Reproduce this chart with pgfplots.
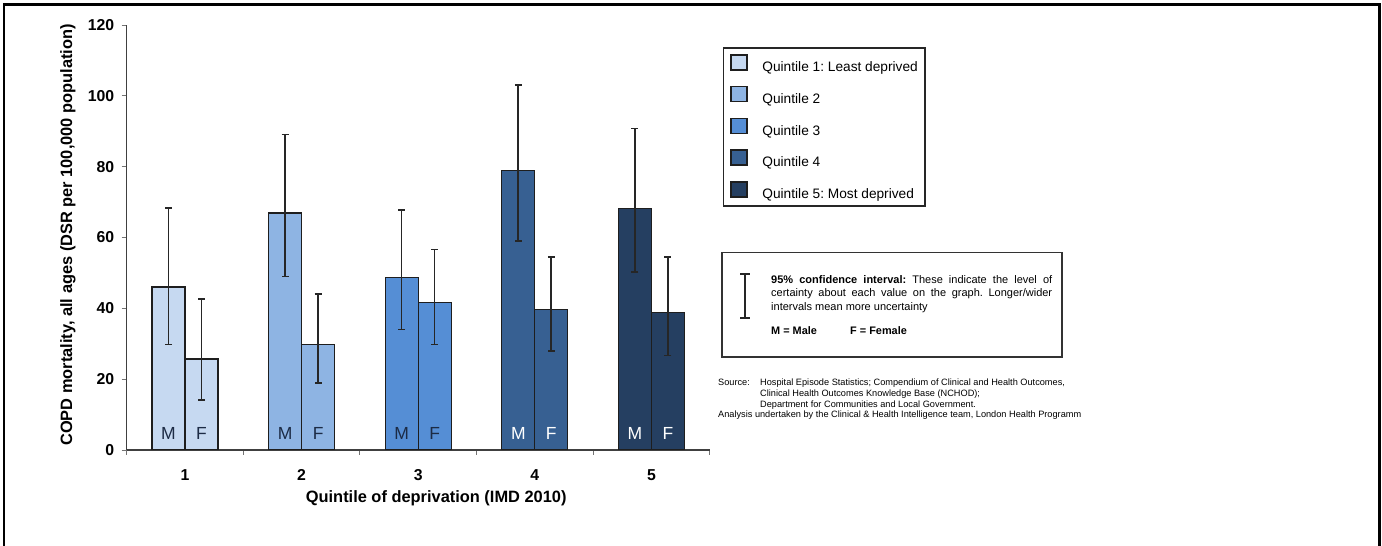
\documentclass[border=0pt]{standalone}
\usepackage{pgfplots}
\pgfplotsset{compat=1.18}
\usepackage{fontspec}
\setmainfont{Liberation Sans}
\frenchspacing
\definecolor{qa}{HTML}{C6D9F1}
\definecolor{qb}{HTML}{8EB4E3}
\definecolor{qc}{HTML}{558ED5}
\definecolor{qd}{HTML}{376092}
\definecolor{qe}{HTML}{253F61}
\definecolor{edge}{HTML}{1E1E1E}
\definecolor{lab}{HTML}{1C2B45}
\begin{document}
\begin{tikzpicture}[x=1pt,y=1pt]
\useasboundingbox (0,0) rectangle (1382,546);
\draw[line width=2.6pt] (4,-20) rectangle (1379.5,541.5);
\begin{axis}[
  at={(126.7pt,96pt)}, anchor=south west,
  scale only axis, width=583pt, height=425pt,
  ybar, enlargelimits=false,
  xmin=0.5, xmax=5.5, ymin=0, ymax=120,
  axis x line*=bottom, axis y line*=left,
  axis line style={-, draw=black!75, line width=1.2pt},
  tick align=outside, major tick length=5pt,
  tick style={draw=black!55, line width=0.9pt},
  ytick={0,20,40,60,80,100,120},
  xtick={0.5,1.5,2.5,3.5,4.5,5.5}, xticklabels={},
  extra x ticks={1,2,3,4,5},
  extra x tick style={major tick length=0pt, xticklabel style={yshift=-16pt}},
  /pgf/number format/assume math mode=true,
  ticklabel style={font=\fontsize{15.8}{18}\selectfont\bfseries},
  yticklabel style={xshift=-4pt},
  xlabel={Quintile of deprivation (IMD 2010)},
  ylabel={COPD mortality, all ages (DSR per 100,000 population)},
  xlabel style={font=\fontsize{16.4}{19}\selectfont\bfseries, at={(axis description cs:0.5,0)}, anchor=base, xshift=18pt, yshift=-53pt},
  ylabel style={font=\fontsize{16.4}{19}\selectfont\bfseries, at={(axis description cs:-0.1007,0.506)}, anchor=center},
  error bars/y dir=both, error bars/y explicit,
  error bars/error bar style={draw=black!85, line width=1.6pt},
  error bars/error mark options={draw=black!85, line width=1.8pt, mark size=3.5pt, rotate=90},
  bar width=33pt,
  legend style={at={(1.022,0.948)}, anchor=north west, draw=black!85, line width=1.8pt,
    inner xsep=7pt, inner ysep=6pt, row sep=12.9pt,
    font=\fontsize{13.7}{16}\selectfont, cells={anchor=west},
    nodes={inner sep=0pt}},
  legend image code/.code={\draw[#1,line width=1.6pt,draw=edge] (0pt,-2.6pt) rectangle (16pt,12.4pt); \path[draw=none,fill=none] (0pt,0pt) -- (31.2pt,0pt);},
]
% Male bars
\addplot[fill=qa, draw=edge, line width=1.2pt, bar shift=-16.5pt] coordinates {(1,46.0) += (0,22.3) -= (0,16.2)};
\addlegendentry{Quintile 1: Least deprived}
\addplot[fill=qb, draw=edge, line width=1.2pt, bar shift=-16.5pt] coordinates {(2,66.9) += (0,22.2) -= (0,17.9)};
\addlegendentry{Quintile 2}
\addplot[fill=qc, draw=edge, line width=1.2pt, bar shift=-16.5pt] coordinates {(3,48.8) += (0,18.9) -= (0,14.8)};
\addlegendentry{Quintile 3}
\addplot[fill=qd, draw=edge, line width=1.2pt, bar shift=-16.5pt] coordinates {(4,78.9) += (0,24.2) -= (0,20.0)};
\addlegendentry{Quintile 4}
\addplot[fill=qe, draw=edge, line width=1.2pt, bar shift=-16.5pt] coordinates {(5,68.3) += (0,22.5) -= (0,18.0)};
\addlegendentry{Quintile 5: Most deprived}
% Female bars
\addplot[forget plot, fill=qa, draw=edge, line width=1.2pt, bar shift=16.5pt] coordinates {(1,25.7) += (0,17.0) -= (0,11.5)};
\addplot[forget plot, fill=qb, draw=edge, line width=1.2pt, bar shift=16.5pt] coordinates {(2,29.8) += (0,14.3) -= (0,10.8)};
\addplot[forget plot, fill=qc, draw=edge, line width=1.2pt, bar shift=16.5pt] coordinates {(3,41.7) += (0,14.9) -= (0,11.9)};
\addplot[forget plot, fill=qd, draw=edge, line width=1.2pt, bar shift=16.5pt] coordinates {(4,39.6) += (0,14.9) -= (0,11.6)};
\addplot[forget plot, fill=qe, draw=edge, line width=1.2pt, bar shift=16.5pt] coordinates {(5,38.9) += (0,15.6) -= (0,12.2)};
% M / F labels
\foreach \q/\c in {1/lab,2/lab,3/lab,4/white,5/white}{
  \edef\tmp{\noexpand\node[anchor=base, text=\c, font=\noexpand\fontsize{17.5}{19}\noexpand\selectfont, xshift=-16.5pt, yshift=10pt] at (axis cs:\q,0) {M};
  \noexpand\node[anchor=base, text=\c, font=\noexpand\fontsize{17.5}{19}\noexpand\selectfont, xshift=16.5pt, yshift=10pt] at (axis cs:\q,0) {F};}
  \tmp
}
\end{axis}
% confidence interval box
\draw[draw=black!80, line width=1.1pt] (722,293.5) rectangle (1062,189);
\draw[black!85, line width=1.4pt] (745,272) -- (745,228) (740,272) -- (750,272) (740,228) -- (750,228);
\node[anchor=north west, inner sep=0pt, text width=281pt, align=justify,
  font=\fontsize{11}{13.6}\selectfont] at (771,271)
  {\textbf{95\% confidence interval:} These indicate the level of\linebreak certainty about each value on the graph. Longer/wider\linebreak intervals mean more uncertainty};
\node[anchor=base west, inner sep=0pt, font=\fontsize{10.9}{13}\selectfont\bfseries] at (771,211) {M = Male};
\node[anchor=base west, inner sep=0pt, font=\fontsize{10.9}{13}\selectfont\bfseries] at (850,211) {F = Female};
% source
\begin{scope}[every node/.style={anchor=base west, inner sep=0pt, font=\fontsize{9.2}{10}\selectfont}]
\node at (718,160) {Source:};
\node at (760,160) {Hospital Episode Statistics; Compendium of Clinical and Health Outcomes,};
\node at (760,149) {Clinical Health Outcomes Knowledge Base (NCHOD);};
\node at (760,138) {Department for Communities and Local Government.};
\node at (718,128) {Analysis undertaken by the Clinical \& Health Intelligence team, London Health Programm};
\end{scope}
\end{tikzpicture}
\end{document}
